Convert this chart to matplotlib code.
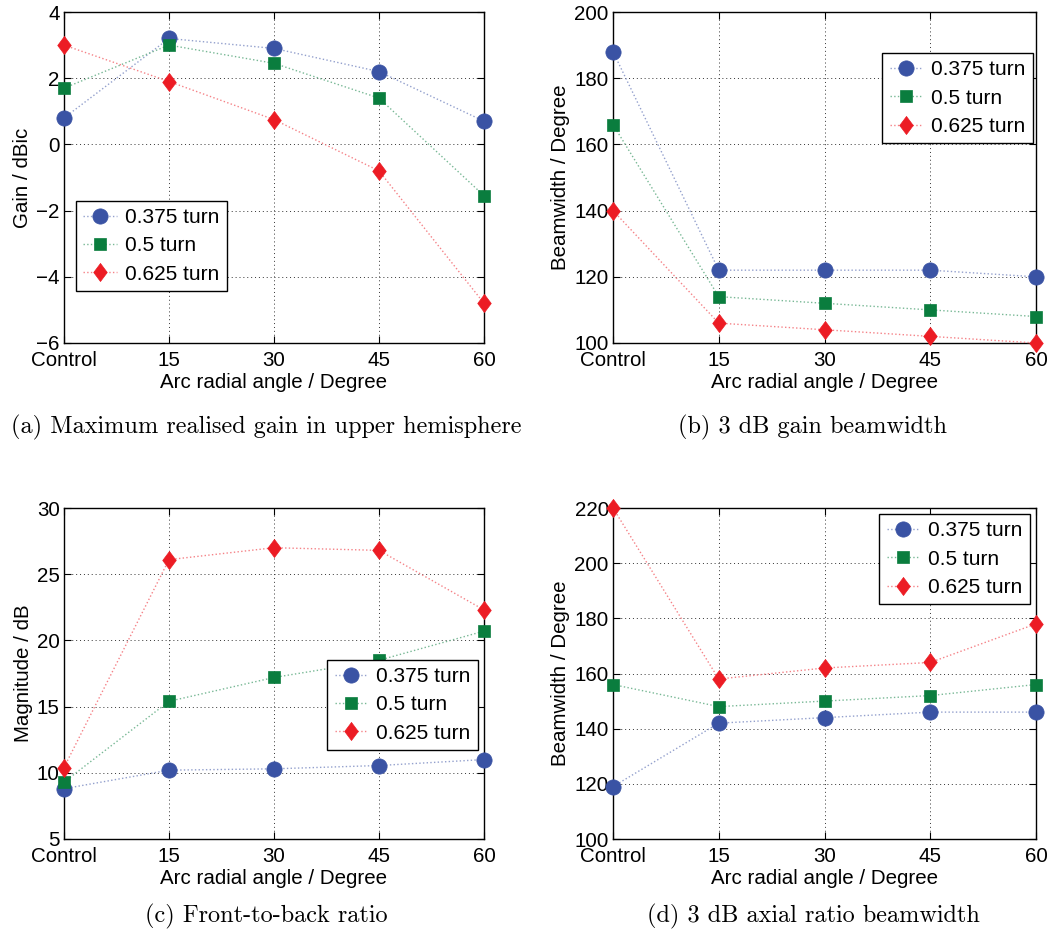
import numpy as np
import matplotlib
matplotlib.use("Agg")
import matplotlib.pyplot as plt
from matplotlib.colors import to_rgb

plt.rcParams['font.family'] = ['Liberation Sans', 'DejaVu Sans']

# arc radial angle categories
angles = ['Control', '15', '30', '45', '60']
turns = ['0.375 turn', '0.5 turn', '0.625 turn']

# (a) max realised gain, dBic
gain_0375 = [0.8, 3.2, 2.9, 2.2, 0.7]
gain_05 = [1.7, 3.0, 2.45, 1.4, -1.55]
gain_0625 = [3.0, 1.9, 0.75, -0.8, -4.8]

# (b) 3 dB gain beamwidth, degree
gbw_0375 = [188, 122, 122, 122, 120]
gbw_05 = [166, 114, 112, 110, 108]
gbw_0625 = [140, 106, 104, 102, 100]

# (c) front-to-back ratio, dB
fbr_0375 = [8.8, 10.2, 10.3, 10.55, 11.0]
fbr_05 = [9.3, 15.4, 17.2, 18.5, 20.7]
fbr_0625 = [10.4, 26.1, 27.0, 26.8, 22.3]

# (d) 3 dB axial ratio beamwidth, degree
arbw_0375 = [119, 142, 144, 146, 146]
arbw_05 = [156, 148, 150, 152, 156]
arbw_0625 = [220, 158, 162, 164, 178]

colors = ['#3a53a4', '#0a7d3e', '#ec1c24']
diamond = [(0, 1), (0.75, 0), (0, -1), (-0.75, 0), (0, 1)]
markers = ['o', 's', diamond]
msizes = [11, 9, 13]


def lighten(c, f=0.45):
    r, g, b = to_rgb(c)
    return (r + (1 - r) * f, g + (1 - g) * f, b + (1 - b) * f)


def draw_panel(ax, series, ylim, yticks, ylabel, leg_loc, leg_anchor):
    x = np.arange(len(angles))
    for vals, c, m, ms, name in zip(series, colors, markers, msizes, turns):
        ax.plot(x, vals, linestyle=':', linewidth=1.0, color=lighten(c),
                marker=m, markersize=ms, markerfacecolor=c, markeredgecolor=c,
                markeredgewidth=0.5, clip_on=False, label=name, zorder=3)
    ax.set_xlim(0, len(angles) - 1)
    ax.set_ylim(*ylim)
    ax.set_xticks(x)
    ax.set_xticklabels(angles)
    ax.set_yticks(yticks)
    ax.tick_params(direction='in', top=True, right=True, labelsize=14.8,
                   length=5, width=0.8)
    ax.tick_params(axis='x', pad=6)
    ax.tick_params(axis='y', pad=3)
    ax.grid(True, linestyle=(0, (1, 3)), color='#333333', linewidth=0.7)
    for s in ax.spines.values():
        s.set_linewidth(1.0)
    ax.set_xlabel('Arc radial angle / Degree', fontsize=14.8, labelpad=2)
    ax.set_ylabel(ylabel, fontsize=14.8, labelpad=3)
    leg = ax.legend(loc=leg_loc, bbox_to_anchor=leg_anchor, borderaxespad=0,
                    fontsize=15, fancybox=False, framealpha=1,
                    edgecolor='black', handlelength=1.6, handletextpad=0.4,
                    borderpad=0.35, labelspacing=0.45)
    leg.get_frame().set_linewidth(1.0)


fig = plt.figure(figsize=(10.55, 9.4), dpi=100)
W, H = 1055.0, 940.0


def axes_at(l, r, t, b):
    return fig.add_axes([l / W, 1 - b / H, (r - l) / W, (b - t) / H])


def caption(cx, cy, text):
    fig.text(cx / W, 1 - cy / H, text, ha='center', va='center',
             fontsize=17.5, family='cmr10')


ax_a = axes_at(64, 484, 12, 343)
ax_b = axes_at(613, 1036, 12, 343)
ax_c = axes_at(64, 484, 508, 839)
ax_d = axes_at(613, 1036, 508, 839)

draw_panel(ax_a, [gain_0375, gain_05, gain_0625], (-6, 4), range(-6, 5, 2),
           'Gain / dBic', 'lower left', (0.029, 0.157))
draw_panel(ax_b, [gbw_0375, gbw_05, gbw_0625], (100, 200), range(100, 201, 20),
           'Beamwidth / Degree', 'upper right', (0.993, 0.876))
draw_panel(ax_c, [fbr_0375, fbr_05, fbr_0625], (5, 30), range(5, 31, 5),
           'Magnitude / dB', 'lower right', (0.986, 0.269))
draw_panel(ax_d, [arbw_0375, arbw_05, arbw_0625], (100, 220), range(100, 221, 20),
           'Beamwidth / Degree', 'upper right', (0.986, 0.982))

caption(266, 427, '(a) Maximum realised gain in upper hemisphere')
caption(813, 427, '(b) 3 dB gain beamwidth')
caption(266, 916, '(c) Front-to-back ratio')
caption(813, 916, '(d) 3 dB axial ratio beamwidth')

fig.savefig('out.png', dpi=100)
